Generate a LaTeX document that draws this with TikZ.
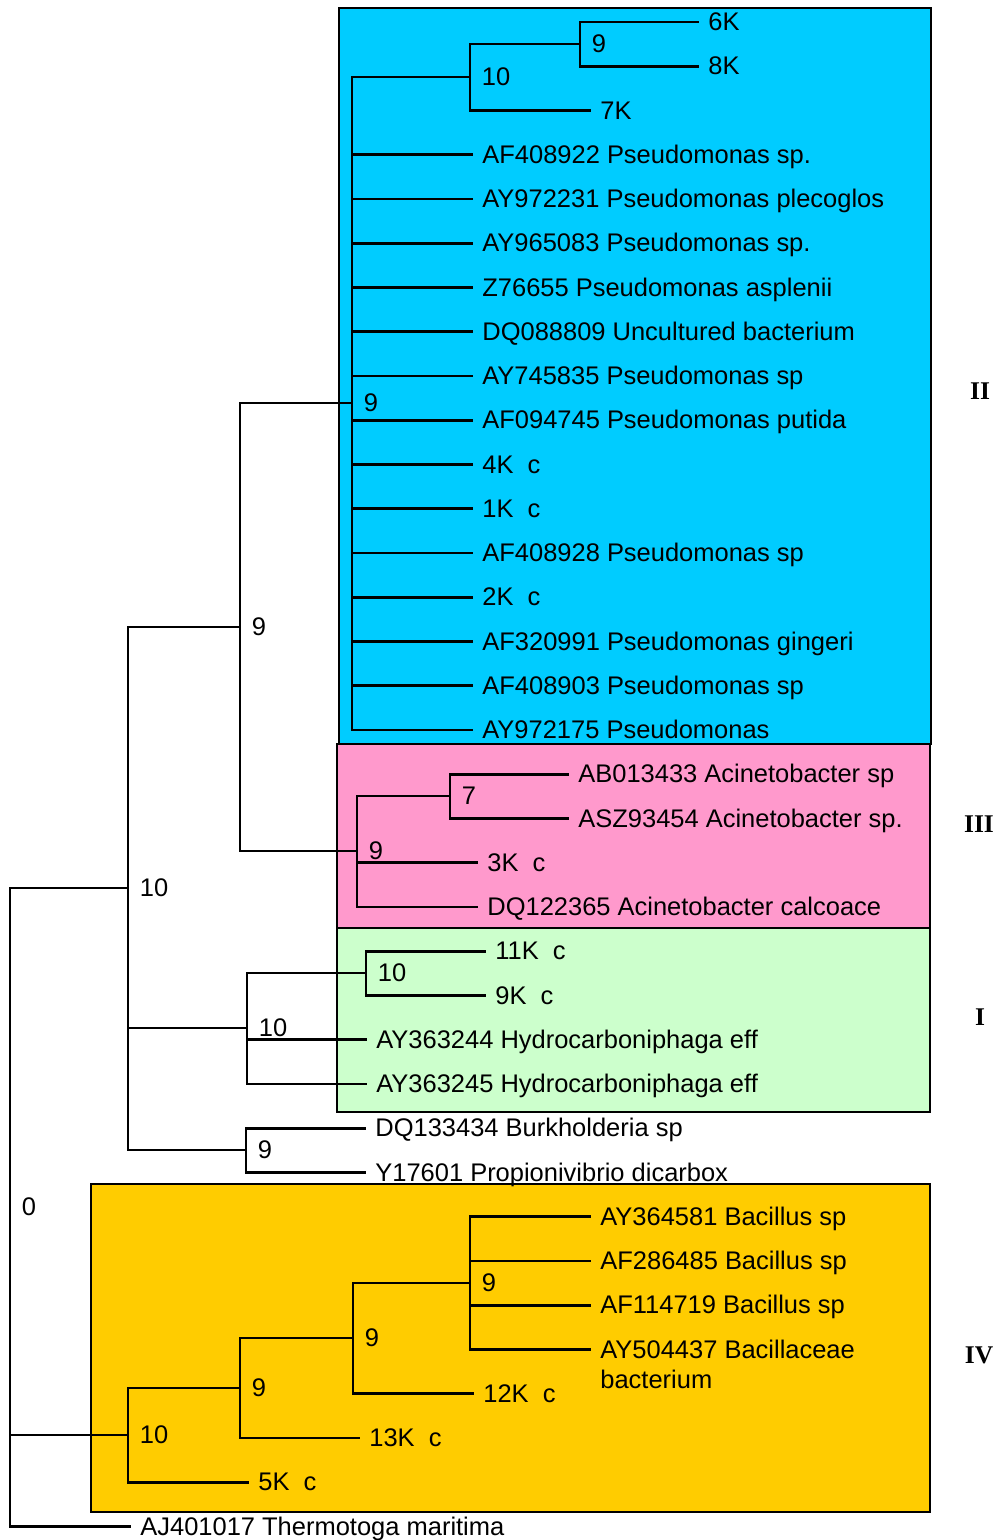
\documentclass[tikz,border=0pt]{standalone}
\usepackage{fontspec}
\setmainfont{Liberation Sans}
\newfontfamily\romanfont{Liberation Serif}
\usepackage{xcolor}
\usepackage{tikz}
\usetikzlibrary{positioning, calc}

\definecolor{cladeIIfill}{HTML}{00CCFF}
\definecolor{cladeIIIfill}{HTML}{FF99CC}
\definecolor{cladeIfill}{HTML}{CCFFCC}
\definecolor{cladeIVfill}{HTML}{FFCC00}

\newcommand{\treefont}{\fontsize{14.5pt}{17pt}\selectfont}

\tikzset{
  tree/clade/.style={draw=black, line width=1pt},
  tree/branch/.style={line width=1.55pt, line cap=rect},
  tree/leaf/.style={anchor=west, inner xsep=5.7pt, inner ysep=0pt,
    text height=0.98em, text depth=0pt, font=\treefont},
  tree/supp/.style={anchor=west, inner sep=0pt, xshift=2.3mm,
    text height=0.98em, text depth=0pt, font=\treefont},
  tree/group/.style={inner sep=0pt, font=\treefont\romanfont\bfseries},
}

\begin{document}
\begin{tikzpicture}[x=0.2mm, y=-0.2mm]
\useasboundingbox (0,0) rectangle (996,1540);

% ── Row layout ───────────────────────────────────────────
\def\rowT{22}     % first leaf row
\def\rowH{44.25}  % row spacing

% ── Clade boxes ──────────────────────────────────────────
\draw[tree/clade, fill=cladeIIfill]  (339,8)    rectangle (931,744);
\draw[tree/clade, fill=cladeIIIfill] (337,744)  rectangle (930,928);
\draw[tree/clade, fill=cladeIfill]   (337,928)  rectangle (930,1112);
\draw[tree/clade, fill=cladeIVfill]  (91,1184)  rectangle (930,1512);

\node[tree/group] (grpII)  at (980,391)  {II};
\node[tree/group] (grpIII) at (979,824)  {III};
\node[tree/group] (grpI)   at (980,1017) {I};
\node[tree/group] (grpIV)  at (979,1355) {IV};

% ── Inner nodes ──────────────────────────────────────────
\coordinate (root)  at (10,1207);
\coordinate (n10a)  at (128,888);
\coordinate (n9a)   at (240,627);
\coordinate (nPs)   at (352,403);
\coordinate (nK10)  at (470,77);
\coordinate (nK9)   at (580,44);
\coordinate (nAc)   at (357,851);
\coordinate (nAc7)  at (450,796);
\coordinate (nI)    at (247,1028);
\coordinate (nI10)  at (366,973);
\coordinate (nBu)   at (246,1150);
\coordinate (nIV)   at (128,1435);
\coordinate (nIV9a) at (240,1388);
\coordinate (nIV9b) at (353,1338);
\coordinate (nIV9c) at (470,1283);

\node[tree/supp] (sRoot)  at (root)  {0};
\node[tree/supp] (s10a)   at (n10a)  {10};
\node[tree/supp] (s9a)    at (n9a)   {9};
\node[tree/supp] (sPs)    at (nPs)   {9};
\node[tree/supp] (sK10)   at (nK10)  {10};
\node[tree/supp] (sK9)    at (nK9)   {9};
\node[tree/supp] (sAc)    at (nAc)   {9};
\node[tree/supp] (sAc7)   at (nAc7)  {7};
\node[tree/supp] (sI)     at (nI)    {10};
\node[tree/supp] (sI10)   at (nI10)  {10};
\node[tree/supp] (sBu)    at (nBu)   {9};
\node[tree/supp] (sIV)    at (nIV)   {10};
\node[tree/supp] (sIV9a)  at (nIV9a) {9};
\node[tree/supp] (sIV9b)  at (nIV9b) {9};
\node[tree/supp] (sIV9c)  at (nIV9c) {9};

% ── Leaves: group II ─────────────────────────────────────
\node[tree/leaf] (l6K)  at (698,\rowT)          {6K};
\node[tree/leaf] (l8K)  at (698,\rowT+\rowH)    {8K};
\node[tree/leaf] (l7K)  at (590,\rowT+2*\rowH)  {7K};
\node[tree/leaf] (lPs1) at (472,\rowT+3*\rowH)  {AF408922 Pseudomonas sp.};
\node[tree/leaf] (lPs2) at (472,\rowT+4*\rowH)  {AY972231 Pseudomonas plecoglos};
\node[tree/leaf] (lPs3) at (472,\rowT+5*\rowH)  {AY965083 Pseudomonas sp.};
\node[tree/leaf] (lPs4) at (472,\rowT+6*\rowH)  {Z76655 Pseudomonas asplenii};
\node[tree/leaf] (lPs5) at (472,\rowT+7*\rowH)  {DQ088809 Uncultured bacterium};
\node[tree/leaf] (lPs6) at (472,\rowT+8*\rowH)  {AY745835 Pseudomonas sp};
\node[tree/leaf] (lPs7) at (472,\rowT+9*\rowH)  {AF094745 Pseudomonas putida};
\node[tree/leaf] (l4K)  at (472,\rowT+10*\rowH) {4K~~c};
\node[tree/leaf] (l1K)  at (472,\rowT+11*\rowH) {1K~~c};
\node[tree/leaf] (lPs8) at (472,\rowT+12*\rowH) {AF408928 Pseudomonas sp};
\node[tree/leaf] (l2K)  at (472,\rowT+13*\rowH) {2K~~c};
\node[tree/leaf] (lPs9) at (472,\rowT+14*\rowH) {AF320991 Pseudomonas gingeri};
\node[tree/leaf] (lPsA) at (472,\rowT+15*\rowH) {AF408903 Pseudomonas sp};
\node[tree/leaf] (lPsB) at (472,\rowT+16*\rowH) {AY972175 Pseudomonas};

% ── Leaves: group III ────────────────────────────────────
\node[tree/leaf] (lAc1) at (568,\rowT+17*\rowH) {AB013433 Acinetobacter sp};
\node[tree/leaf] (lAc2) at (568,\rowT+18*\rowH) {ASZ93454 Acinetobacter sp.};
\node[tree/leaf] (l3K)  at (477,\rowT+19*\rowH) {3K~~c};
\node[tree/leaf] (lAc3) at (477,\rowT+20*\rowH) {DQ122365 Acinetobacter calcoace};

% ── Leaves: group I and outgroups ────────────────────────
\node[tree/leaf] (l11K) at (485,\rowT+21*\rowH) {11K~~c};
\node[tree/leaf] (l9K)  at (485,\rowT+22*\rowH) {9K~~c};
\node[tree/leaf] (lHy1) at (366,\rowT+23*\rowH) {AY363244 Hydrocarboniphaga eff};
\node[tree/leaf] (lHy2) at (366,\rowT+24*\rowH) {AY363245 Hydrocarboniphaga eff};
\node[tree/leaf] (lBu)  at (365,\rowT+25*\rowH) {DQ133434 Burkholderia sp};
\node[tree/leaf] (lPr)  at (365,\rowT+26*\rowH) {Y17601 Propionivibrio dicarbox};

% ── Leaves: group IV ─────────────────────────────────────
\node[tree/leaf] (lBa1) at (590,\rowT+27*\rowH) {AY364581 Bacillus sp};
\node[tree/leaf] (lBa2) at (590,\rowT+28*\rowH) {AF286485 Bacillus sp};
\node[tree/leaf] (lBa3) at (590,\rowT+29*\rowH) {AF114719 Bacillus sp};
\node[tree/leaf] (lBa4) at (590,\rowT+30*\rowH)
  {\begin{tabular}[t]{@{}l@{}}AY504437 Bacillaceae\\bacterium\end{tabular}};
\node[tree/leaf] (l12K) at (473,\rowT+31*\rowH) {12K~~c};
\node[tree/leaf] (l13K) at (359,\rowT+32*\rowH) {13K~~c};
\node[tree/leaf] (l5K)  at (248,\rowT+33*\rowH) {5K~~c};
\node[tree/leaf] (lTh)  at (130,\rowT+34*\rowH) {AJ401017 Thermotoga maritima};

% ── Branches ─────────────────────────────────────────────
\draw[tree/branch] (root) |- (n10a);
\draw[tree/branch] (root) |- (nIV);
\draw[tree/branch] (root) |- (lTh.west);

\draw[tree/branch] (n10a) |- (n9a);
\draw[tree/branch] (n10a) |- (nI);
\draw[tree/branch] (n10a) |- (nBu);

\draw[tree/branch] (n9a) |- (nPs);
\draw[tree/branch] (n9a) |- (nAc);

% Pseudomonas clade
\draw[tree/branch] (nPs) |- (nK10);
\draw[tree/branch] (nK10) |- (nK9);
\draw[tree/branch] (nK10) |- (l7K.west);
\draw[tree/branch] (nK9) |- (l6K.west);
\draw[tree/branch] (nK9) |- (l8K.west);
\draw[tree/branch] (nPs) |- (lPs1.west);
\draw[tree/branch] (nPs) |- (lPs2.west);
\draw[tree/branch] (nPs) |- (lPs3.west);
\draw[tree/branch] (nPs) |- (lPs4.west);
\draw[tree/branch] (nPs) |- (lPs5.west);
\draw[tree/branch] (nPs) |- (lPs6.west);
\draw[tree/branch] (nPs) |- (lPs7.west);
\draw[tree/branch] (nPs) |- (l4K.west);
\draw[tree/branch] (nPs) |- (l1K.west);
\draw[tree/branch] (nPs) |- (lPs8.west);
\draw[tree/branch] (nPs) |- (l2K.west);
\draw[tree/branch] (nPs) |- (lPs9.west);
\draw[tree/branch] (nPs) |- (lPsA.west);
\draw[tree/branch] (nPs) |- (lPsB.west);

% Acinetobacter clade
\draw[tree/branch] (nAc) |- (nAc7);
\draw[tree/branch] (nAc7) |- (lAc1.west);
\draw[tree/branch] (nAc7) |- (lAc2.west);
\draw[tree/branch] (nAc) |- (l3K.west);
\draw[tree/branch] (nAc) |- (lAc3.west);

% Hydrocarboniphaga clade
\draw[tree/branch] (nI) |- (nI10);
\draw[tree/branch] (nI10) |- (l11K.west);
\draw[tree/branch] (nI10) |- (l9K.west);
\draw[tree/branch] (nI) |- (lHy1.west);
\draw[tree/branch] (nI) |- (lHy2.west);

\draw[tree/branch] (nBu) |- (lBu.west);
\draw[tree/branch] (nBu) |- (lPr.west);

% Bacillus clade
\draw[tree/branch] (nIV) |- (nIV9a);
\draw[tree/branch] (nIV) |- (l5K.west);
\draw[tree/branch] (nIV9a) |- (nIV9b);
\draw[tree/branch] (nIV9a) |- (l13K.west);
\draw[tree/branch] (nIV9b) |- (nIV9c);
\draw[tree/branch] (nIV9b) |- (l12K.west);
\draw[tree/branch] (nIV9c) |- (lBa1.west);
\draw[tree/branch] (nIV9c) |- (lBa2.west);
\draw[tree/branch] (nIV9c) |- (lBa3.west);
\draw[tree/branch] (nIV9c) |- (lBa4.west);

\end{tikzpicture}
\end{document}
